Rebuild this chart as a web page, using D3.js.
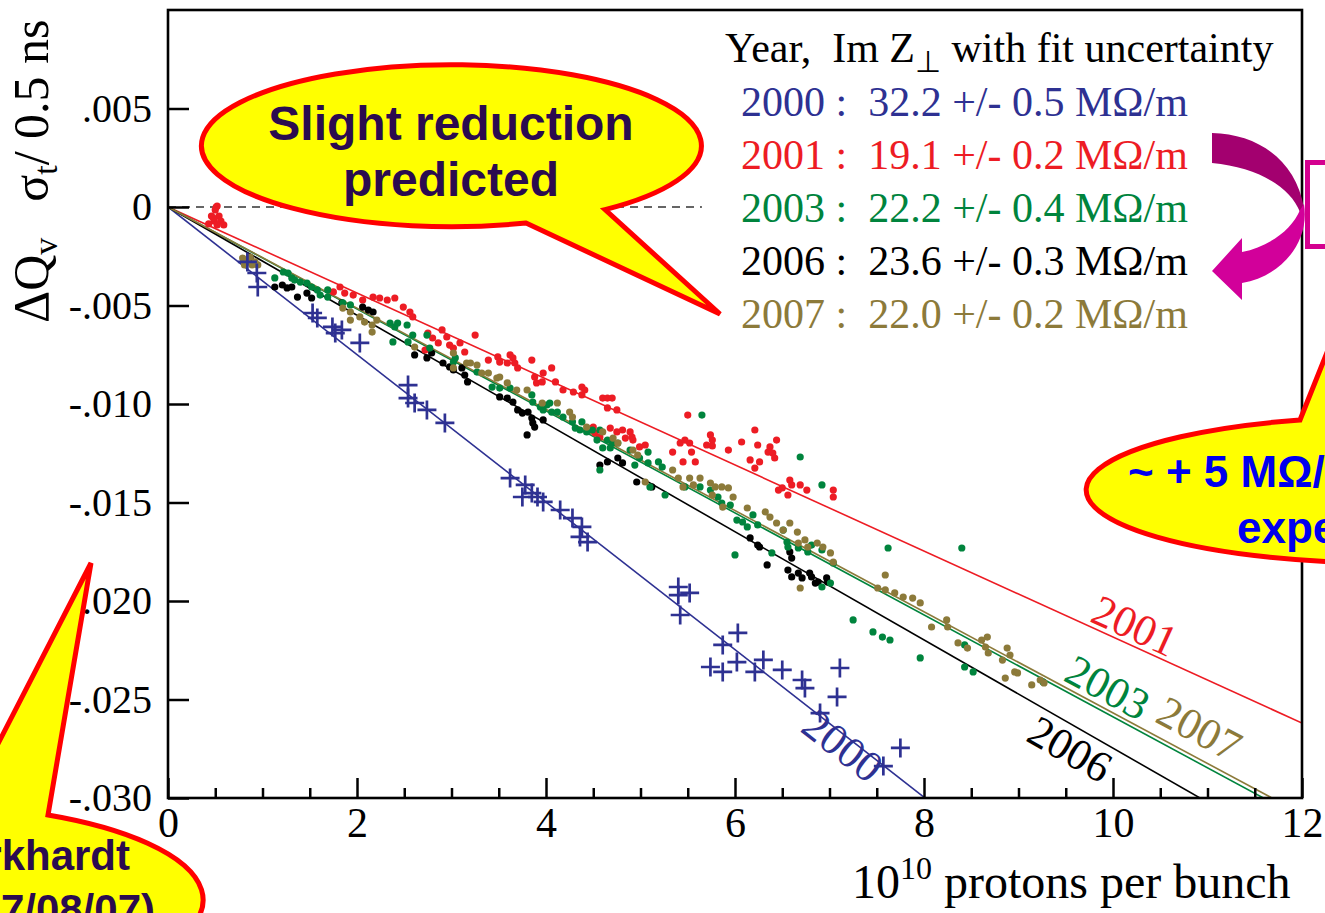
<!DOCTYPE html>
<html><head><meta charset="utf-8">
<script src="https://cdn.jsdelivr.net/npm/d3@7"></script>
<style>
html,body{margin:0;padding:0;background:#fff;overflow:hidden}
svg{display:block}
text{white-space:pre}
</style></head><body>
<svg id="c" width="1325" height="913"></svg>
<script>
// ---------------- DATA ----------------
const years = ["2000","2001","2003","2006","2007"];
const impedance = ["32.2 +/- 0.5","19.1 +/- 0.2","22.2 +/- 0.4","23.6 +/- 0.3","22.0 +/- 0.2"];
const fitSlopes = [-0.003745,-0.002183,-0.002588,-0.002747,-0.002568];
const xTicks = [0,2,4,6,8,10,12];
const xTickLabels = ["0","2","4","6","8","10","12"];
const xMinorTicks = [0.5,1,1.5,2.5,3,3.5,4.5,5,5.5,6.5,7,7.5,8.5,9,9.5,10.5,11,11.5];
const yTicks = [0.005,0,-0.005,-0.010,-0.015,-0.020,-0.025,-0.030];
const yTickLabels = [".005","0","-.005","-.010","-.015","-.020","-.025","-.030"];

const data2000 = [[0.84,-0.00279],[0.94,-0.00335],[0.95,-0.00406],[1.53,-0.00538],[1.58,-0.00563],[1.74,-0.00609],[1.77,-0.00640],[1.84,-0.00624],[2.03,-0.00690],[2.54,-0.00904],[2.54,-0.00970],[2.61,-0.00995],[2.74,-0.01030],[2.93,-0.01096],[3.62,-0.01376],[3.78,-0.01411],[3.75,-0.01472],[3.85,-0.01452],[3.91,-0.01472],[3.97,-0.01497],[4.15,-0.01538],[4.28,-0.01579],[4.38,-0.01624],[4.36,-0.01675],[4.44,-0.01701],[5.40,-0.01929],[5.40,-0.01970],[5.52,-0.01959],[5.42,-0.02071],[6.03,-0.02162],[5.87,-0.02223],[6.02,-0.02310],[5.74,-0.02335],[5.87,-0.02360],[6.21,-0.02360],[6.30,-0.02299],[6.50,-0.02350],[6.71,-0.02401],[6.74,-0.02442],[7.11,-0.02340],[7.08,-0.02487],[6.90,-0.02569],[7.57,-0.02838],[7.75,-0.02746]];

const data2001 = [[0.51,0.00000],[0.52,0.00005],[0.50,-0.00015],[0.46,-0.00046],[0.54,-0.00046],[0.49,-0.00071],[0.56,-0.00071],[0.43,-0.00086],[0.52,-0.00091],[0.59,-0.00091],[0.48,-0.00056],[1.75,-0.00431],[1.82,-0.00406],[1.87,-0.00437],[1.96,-0.00447],[2.06,-0.00472],[2.17,-0.00457],[2.24,-0.00462],[2.32,-0.00472],[2.40,-0.00462],[2.49,-0.00508],[2.56,-0.00533],[2.59,-0.00558],[2.72,-0.00726],[2.75,-0.00640],[2.80,-0.00665],[2.86,-0.00690],[2.90,-0.00624],[2.95,-0.00660],[2.98,-0.00701],[3.02,-0.00716],[3.09,-0.00690],[3.14,-0.00736],[3.25,-0.00650],[3.39,-0.00777],[3.49,-0.00761],[3.51,-0.00787],[3.59,-0.00792],[3.62,-0.00751],[3.65,-0.00766],[3.67,-0.00792],[3.70,-0.00817],[3.85,-0.00777],[3.88,-0.00863],[3.90,-0.00893],[3.97,-0.00843],[3.96,-0.00888],[4.06,-0.00817],[4.10,-0.00888],[4.18,-0.00929],[4.29,-0.00939],[4.38,-0.00914],[4.38,-0.00954],[4.41,-0.00929],[4.60,-0.00970],[4.65,-0.00970],[4.70,-0.00970],[4.65,-0.01020],[4.75,-0.01030],[4.50,-0.01117],[4.52,-0.01147],[4.57,-0.01168],[4.68,-0.01122],[4.75,-0.01142],[4.81,-0.01132],[4.89,-0.01142],[4.84,-0.01173],[4.91,-0.01168],[4.92,-0.01183],[4.99,-0.01218],[5.05,-0.01208],[5.34,-0.01244],[5.42,-0.01198],[5.47,-0.01183],[5.52,-0.01198],[5.54,-0.01244],[5.45,-0.01294],[5.58,-0.01294],[5.50,-0.01056],[5.74,-0.01157],[5.76,-0.01183],[5.76,-0.01213],[5.70,-0.01208],[5.93,-0.01234],[6.07,-0.01193],[6.21,-0.01132],[6.24,-0.01208],[6.37,-0.01218],[6.35,-0.01244],[6.40,-0.01249],[6.44,-0.01183],[6.42,-0.01274],[6.16,-0.01284],[6.26,-0.01294],[6.21,-0.01325],[6.50,-0.01426],[6.46,-0.01437],[6.58,-0.01386],[6.60,-0.01411],[6.69,-0.01411],[6.76,-0.01437],[6.56,-0.01462],[7.04,-0.01437],[7.04,-0.01472]];

const data2003 = [[1.13,-0.00360],[1.22,-0.00330],[1.27,-0.00335],[1.31,-0.00360],[1.34,-0.00371],[1.40,-0.00381],[1.47,-0.00386],[1.52,-0.00406],[1.58,-0.00421],[1.61,-0.00447],[1.69,-0.00421],[1.69,-0.00457],[1.85,-0.00487],[1.93,-0.00497],[2.35,-0.00589],[2.40,-0.00609],[2.43,-0.00589],[2.53,-0.00599],[2.59,-0.00650],[2.74,-0.00650],[2.38,-0.00685],[2.54,-0.00685],[3.02,-0.00787],[3.04,-0.00766],[2.77,-0.00716],[3.27,-0.00838],[3.43,-0.00914],[3.51,-0.00919],[3.62,-0.00919],[3.85,-0.00954],[3.86,-0.00990],[3.94,-0.01015],[3.97,-0.01030],[4.01,-0.01005],[4.04,-0.00995],[4.06,-0.01041],[4.12,-0.01041],[4.18,-0.01066],[4.28,-0.01091],[4.38,-0.01091],[4.31,-0.01122],[4.36,-0.01132],[4.43,-0.01142],[4.49,-0.01132],[4.57,-0.01132],[4.54,-0.01183],[4.65,-0.01183],[4.70,-0.01198],[4.60,-0.01223],[4.68,-0.01223],[4.76,-0.01198],[4.89,-0.01234],[4.99,-0.01274],[4.94,-0.01310],[5.08,-0.01244],[5.08,-0.01299],[5.10,-0.01421],[4.57,-0.01335],[5.26,-0.01462],[5.19,-0.01294],[5.23,-0.01320],[5.65,-0.01056],[5.47,-0.01421],[5.63,-0.01421],[5.74,-0.01437],[5.82,-0.01472],[5.86,-0.01503],[5.95,-0.01513],[6.02,-0.01589],[6.08,-0.01599],[6.13,-0.01624],[6.19,-0.01563],[6.24,-0.01614],[6.00,-0.01766],[6.39,-0.01756],[6.51,-0.01640],[6.55,-0.01701],[6.56,-0.01726],[6.67,-0.01731],[6.77,-0.01751],[6.81,-0.01716],[6.92,-0.01741],[6.69,-0.01269],[6.92,-0.01411],[7.04,-0.01807],[6.92,-0.01929],[7.01,-0.01909],[7.62,-0.01731],[8.40,-0.01731],[7.25,-0.02096],[7.46,-0.02157],[7.56,-0.02183],[7.64,-0.02198],[7.96,-0.02289],[8.43,-0.02223],[8.43,-0.02335],[8.52,-0.02360],[9.26,-0.02411]];

const data2006 = [[0.87,-0.00259],[1.13,-0.00406],[1.21,-0.00396],[1.26,-0.00411],[1.31,-0.00406],[1.37,-0.00457],[1.47,-0.00437],[1.52,-0.00462],[1.84,-0.00487],[2.06,-0.00508],[2.12,-0.00523],[2.17,-0.00533],[2.61,-0.00751],[2.74,-0.00766],[2.79,-0.00741],[2.91,-0.00792],[2.98,-0.00812],[3.02,-0.00827],[3.11,-0.00817],[3.14,-0.00853],[3.17,-0.00888],[3.51,-0.00964],[3.59,-0.00970],[3.65,-0.00990],[3.70,-0.01030],[3.75,-0.01046],[3.81,-0.01041],[3.85,-0.01071],[3.86,-0.01096],[3.88,-0.01117],[3.80,-0.01157],[3.97,-0.01081],[4.57,-0.01310],[4.65,-0.01294],[4.76,-0.01274],[4.81,-0.01299],[4.96,-0.01396],[5.12,-0.01421],[6.16,-0.01680],[6.24,-0.01716],[6.26,-0.01726],[6.34,-0.01817],[6.58,-0.01751],[6.60,-0.01782],[6.56,-0.01843],[6.60,-0.01878],[6.67,-0.01858],[6.71,-0.01883],[6.79,-0.01858],[6.81,-0.01878],[6.88,-0.01904],[6.97,-0.01883],[6.98,-0.01904],[6.85,-0.01909]];

const data2007 = [[0.79,-0.00259],[0.84,-0.00279],[0.87,-0.00254],[0.92,-0.00279],[0.95,-0.00294],[0.81,-0.00294],[0.89,-0.00294],[1.85,-0.00513],[1.93,-0.00533],[2.03,-0.00558],[2.08,-0.00584],[2.16,-0.00599],[1.93,-0.00574],[2.21,-0.00574],[2.16,-0.00635],[2.61,-0.00711],[3.02,-0.00817],[3.02,-0.00741],[3.16,-0.00792],[3.20,-0.00792],[3.27,-0.00802],[3.32,-0.00843],[3.39,-0.00843],[3.48,-0.00868],[3.51,-0.00863],[3.59,-0.00893],[3.69,-0.00929],[3.80,-0.00929],[3.96,-0.00995],[4.12,-0.00995],[4.25,-0.01041],[4.28,-0.01066],[4.43,-0.01117],[4.60,-0.01142],[4.71,-0.01173],[4.76,-0.01198],[4.92,-0.01234],[4.97,-0.01259],[5.34,-0.01335],[5.40,-0.01376],[5.52,-0.01376],[5.56,-0.01411],[5.63,-0.01376],[5.74,-0.01401],[5.79,-0.01421],[5.86,-0.01421],[5.93,-0.01426],[5.98,-0.01472],[5.76,-0.01462],[5.05,-0.01396],[5.45,-0.01421],[5.87,-0.01523],[6.13,-0.01528],[6.32,-0.01548],[6.37,-0.01574],[6.44,-0.01604],[6.51,-0.01640],[6.58,-0.01604],[6.66,-0.01650],[6.67,-0.01706],[6.74,-0.01690],[6.77,-0.01726],[6.87,-0.01706],[6.93,-0.01726],[7.01,-0.01756],[7.04,-0.01802],[6.69,-0.01934],[7.59,-0.01868],[7.51,-0.01934],[7.59,-0.01944],[7.69,-0.01959],[7.78,-0.01980],[7.88,-0.01985],[7.96,-0.02010],[8.08,-0.02132],[8.24,-0.02096],[8.25,-0.02132],[8.36,-0.02213],[8.46,-0.02239],[8.67,-0.02183],[8.65,-0.02234],[8.68,-0.02264],[8.88,-0.02239],[8.91,-0.02274],[8.83,-0.02300],[8.96,-0.02360],[8.99,-0.02365],[8.86,-0.02391],[9.14,-0.02426],[9.23,-0.02401],[9.27,-0.02416],[8.61,-0.02198]];

// ---------------- LAYOUT / STYLE ----------------
const colors = {"2000":"#2e3192","2001":"#ed1c24","2003":"#00843d","2006":"#000000","2007":"#8c7a3a"};
const serif = "'Liberation Serif','Times New Roman',serif";
const sans = "'Liberation Sans',Arial,sans-serif";
const P = {left:168, right:1302, top:10, bottom:798};

const svg = d3.select("#c");
const x = d3.scaleLinear().domain([0,12]).range([P.left,P.right]);
const y = d3.scaleLinear().domain([-0.03,0.01]).range([P.bottom,P.top]);

svg.append("defs").append("clipPath").attr("id","plotclip")
  .append("rect").attr("x",P.left).attr("y",P.top).attr("width",P.right-P.left).attr("height",P.bottom-P.top);

// zero dashed line
svg.append("line").attr("x1",x(0)).attr("x2",x(5.65)).attr("y1",y(0)).attr("y2",y(0))
  .attr("stroke","#333").attr("stroke-width",1.5).attr("stroke-dasharray","8,6");

// fit lines
const plot = svg.append("g").attr("clip-path","url(#plotclip)");
years.forEach((yr,i)=>{
  plot.append("line").attr("x1",x(0)).attr("y1",y(0)).attr("x2",x(12)).attr("y2",y(fitSlopes[i]*12))
    .attr("stroke",colors[yr]).attr("stroke-width",1.6);
});

// points
const dotSeries = [["2001",data2001],["2006",data2006],["2003",data2003],["2007",data2007]];
dotSeries.forEach(([yr,d])=>{
  plot.append("g").selectAll("circle").data(d).join("circle")
    .attr("cx",p=>x(p[0])).attr("cy",p=>y(p[1])).attr("r",3.6).attr("fill",colors[yr]);
});
plot.append("g").selectAll("path").data(data2000).join("path")
  .attr("d","M-9.5,0H9.5M0,-9.5V9.5").attr("transform",p=>`translate(${x(p[0])},${y(p[1])})`)
  .attr("stroke",colors["2000"]).attr("stroke-width",2.7).attr("fill","none");

// line labels
const labelPos = {"2000":[7.11,18],"2001":[10.21,-16],"2003":[9.92,-21],"2006":[9.52,31],"2007":[10.89,-25]};
years.forEach((yr,i)=>{
  const [lx,off] = labelPos[yr];
  const ang = Math.atan2(y(fitSlopes[i])-y(0), x(1)-x(0))*180/Math.PI;
  svg.append("text").attr("transform",`translate(${x(lx)},${y(fitSlopes[i]*lx)+off}) rotate(${ang})`)
    .attr("text-anchor","middle").attr("dominant-baseline","middle")
    .attr("font-family",serif).attr("font-size",44).attr("fill",colors[yr]).text(yr);
});

// axes
const xAx = svg.append("g").attr("transform",`translate(0,${P.bottom})`)
  .call(d3.axisBottom(x).tickValues(xTicks).tickFormat((d,i)=>xTickLabels[i]).tickSize(-20).tickPadding(9));
const xMin = svg.append("g").attr("transform",`translate(0,${P.bottom})`)
  .call(d3.axisBottom(x).tickValues(xMinorTicks).tickFormat("").tickSize(-10));
const yAx = svg.append("g").attr("transform",`translate(${P.left},0)`)
  .call(d3.axisLeft(y).tickValues(yTicks).tickFormat((d,i)=>yTickLabels[i]).tickSize(-21).tickPadding(16));
[xAx,xMin,yAx].forEach(g=>{
  g.select(".domain").remove();
  g.selectAll("line").attr("stroke","#000").attr("stroke-width",2.5);
  g.selectAll("text").attr("font-family",serif).attr("fill","#000");
});
xAx.selectAll("text").attr("font-size",42);
yAx.selectAll("text").attr("font-size",40);

// frame
svg.append("rect").attr("x",P.left).attr("y",P.top).attr("width",P.right-P.left).attr("height",P.bottom-P.top)
  .attr("fill","none").attr("stroke","#000").attr("stroke-width",2.6);

// axis titles
const yl = svg.append("text").attr("transform","translate(48,323) rotate(-90)")
  .attr("font-family",serif).attr("font-size",50).attr("fill","#000");
yl.append("tspan").text("ΔQ");
yl.append("tspan").attr("font-size",34).attr("dy",9).text("v");
yl.append("tspan").attr("dy",-9).attr("dx",36).text("σ");
yl.append("tspan").attr("font-size",34).attr("dy",9).text("t");
yl.append("tspan").attr("dy",-9).text("/ 0.5 ns");

const xl = svg.append("text").attr("x",852).attr("y",898)
  .attr("font-family",serif).attr("font-size",48).attr("fill","#000");
xl.append("tspan").text("10");
xl.append("tspan").attr("font-size",32).attr("dy",-19).text("10");
xl.append("tspan").attr("dy",19).text(" protons per bunch");

// legend
const lg = svg.append("text").attr("x",725).attr("y",62).attr("font-family",serif).attr("font-size",42).attr("fill","#000");
lg.append("tspan").text("Year,  Im Z");
lg.append("tspan").attr("font-size",30).attr("dy",10).text("⊥");
lg.append("tspan").attr("dy",-10).text(" with fit uncertainty");
years.forEach((yr,i)=>{
  svg.append("text").attr("x",741).attr("y",116+i*53).attr("font-family",serif).attr("font-size",42)
    .attr("fill",colors[yr]).text(`${yr} :  ${impedance[i]} MΩ/m`);
});

// magenta arrow + box
svg.append("rect").attr("x",1307.5).attr("y",162.5).attr("width",40).attr("height",84)
  .attr("fill","#fff").attr("stroke","#d4008f").attr("stroke-width",5);
svg.append("path").attr("d","M1212,133 C1258,134 1296,160 1304,208 L1300,212 C1290,186 1256,167 1212,163 Z")
  .attr("fill","#a3006f");
svg.append("path").attr("d","M1304,204 C1310,242 1282,276 1242,283 L1242,300 L1212,271 L1242,238 L1242,252 C1268,247 1292,230 1300,210 Z")
  .attr("fill","#d2009a");

// callouts
function callout(d, textLines, color){
  svg.append("path").attr("d",d).attr("fill","#ffff00").attr("stroke","#ff0000").attr("stroke-width",5).attr("stroke-linejoin","miter");
  textLines.forEach(t=>{
    svg.append("text").attr("x",t.x).attr("y",t.y).attr("text-anchor",t.anchor)
      .attr("font-family",sans).attr("font-weight","bold").attr("font-size",t.size).attr("fill",color).text(t.s);
  });
}
// Slight reduction predicted
callout("M526,223 L720,314 L605,209.6 A250,81 0 1 0 526,223 Z",
  [{x:451,y:140,anchor:"middle",size:48,s:"Slight reduction"},{x:451,y:196,anchor:"middle",size:48,s:"predicted"}], "#2b0b4f");
// bottom-left
callout("M-34,806 L91,563 L48,815 A283,95 0 1 1 -34,806 Z",
  [{x:130,y:870,anchor:"end",size:42,s:"Burkhardt"},{x:155,y:924,anchor:"end",size:42,s:"(27/08/07)"}], "#2b0b4f");
// right
callout("M1300,420 L1360,270 L1400,417 A300,73 0 1 1 1300,420 Z",
  [{x:1128,y:487,anchor:"start",size:44,s:"~ + 5 MΩ/m"},{x:1237,y:543,anchor:"start",size:44,s:"expected"}], "#0000ee");
</script>
</body></html>
